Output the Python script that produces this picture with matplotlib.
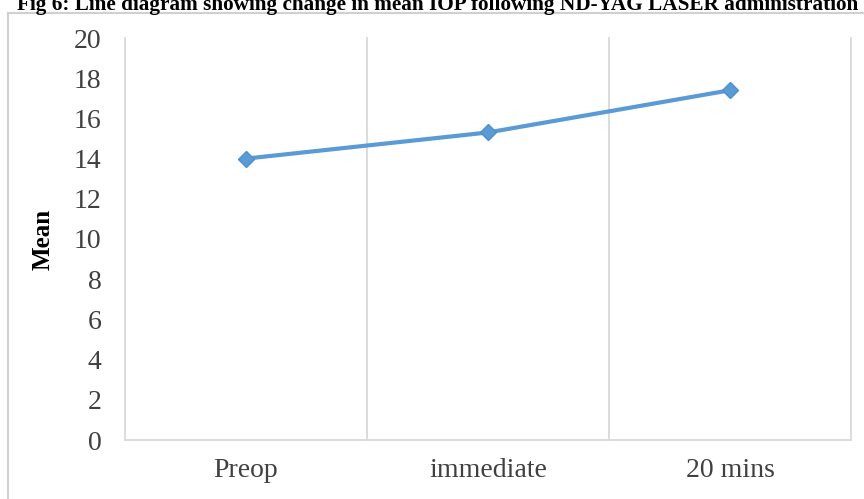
import matplotlib.pyplot as plt
from matplotlib.patches import Rectangle

# mean IOP at each time point
stages = ["Preop", "immediate", "20 mins"]
mean_iop = [14.0, 15.3, 17.4]

plt.rcParams["font.family"] = ["Liberation Serif", "DejaVu Serif"]

W, H = 864, 499
fig = plt.figure(figsize=(W / 100, H / 100), dpi=100)
ax = fig.add_axes([125 / W, 59 / H, 726 / W, 402 / H])

x = range(len(stages))
ax.plot(x, mean_iop, color="#5B9BD5", linewidth=3, marker="D",
        markersize=8, markerfacecolor="#5B9BD5", markeredgecolor="#4F8FCB",
        solid_capstyle="round", zorder=3)

ax.set_xlim(-0.5, len(stages) - 0.5)
ax.set_ylim(0, 20)
ax.set_yticks(range(0, 21, 2))
ax.set_xticks(list(x))
ax.set_xticklabels(stages)

# category separators, Excel style, including the plot edges
for b in [-0.5, 0.5, 1.5, 2.5]:
    ax.axvline(b, color="#D9D9D9", linewidth=1.3, zorder=0, clip_on=False)

for side in ["left", "right", "top"]:
    ax.spines[side].set_visible(False)
ax.spines["bottom"].set_color("#D9D9D9")
ax.spines["bottom"].set_linewidth(1.3)

ax.tick_params(axis="both", length=0, labelsize=20, colors="#404040")
ax.tick_params(axis="y", pad=17)
ax.tick_params(axis="x", pad=13)

ax.set_ylabel("Mean", fontsize=18, fontweight="bold", labelpad=14)

# outer chart frame (runs off the right and bottom edges)
fig.patches.append(Rectangle((8 / W, -0.05), 1.0, 1 - 13 / H + 0.05,
                             transform=fig.transFigure, fill=False,
                             edgecolor="#D0D0D0", linewidth=1.5))

fig.text(17 / W, 1 - 10 / H,
         "Fig 6: Line diagram showing change in mean IOP following ND-YAG LASER administration",
         fontsize=15.3, fontweight="bold", ha="left", va="baseline")

fig.savefig("out.png", dpi=100)
